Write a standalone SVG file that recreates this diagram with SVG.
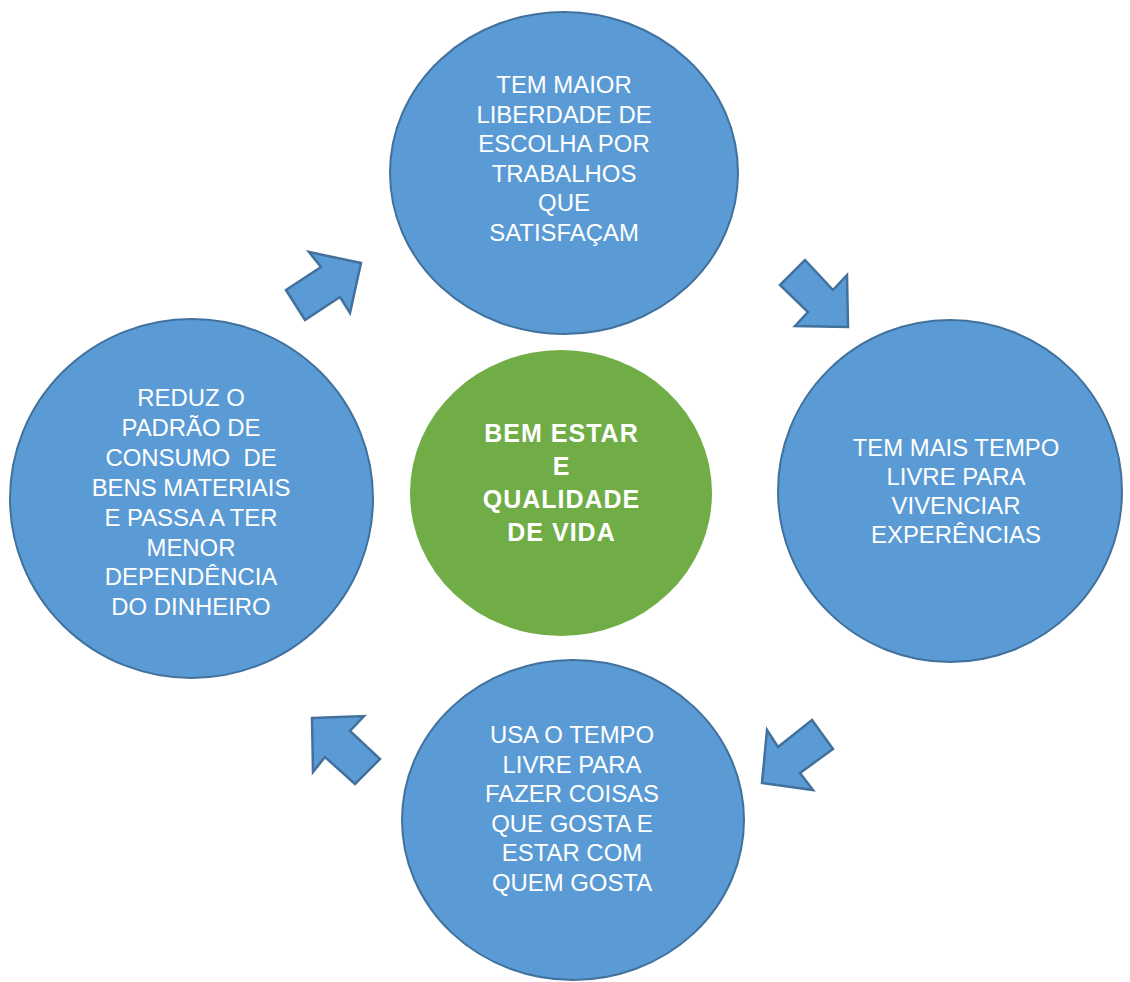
<svg xmlns="http://www.w3.org/2000/svg" width="1130" height="982" viewBox="0 0 1130 982">
<style>
.c{fill:#5B9BD5;stroke:#41719C;stroke-width:2}
.g{fill:#70AD47}
.a{fill:#5B9BD5;stroke:#41719C;stroke-width:2.5;stroke-linejoin:miter}
.t{font-family:"Liberation Sans",Arial,sans-serif;font-size:23.9px;fill:#FFFFFF;text-anchor:middle;white-space:pre}
.b{font-family:"Liberation Sans",Arial,sans-serif;font-size:25px;font-weight:bold;letter-spacing:1px;fill:#FFFFFF;text-anchor:middle}
</style>
<rect width="1130" height="982" fill="#FFFFFF"/>
<g id="connectors">
<polygon class="a" points="286,290 321,267 309,252 361,263 350,313 340,297 305,320"/>
<polygon class="a" points="805,260 833,290 847,275 848,327 795,326 808,312 780,285"/>
<polygon class="a" points="812,720 833,749 800,773 813,790 762,783 767,730 778,747"/>
<polygon class="a" points="312,718 364,716 350,731 380,759 355,784 325,757 313,772"/>
</g>
<g id="node-top">
<ellipse class="c" cx="564" cy="173" rx="174" ry="161"/>
<text class="t" x="564" y="93">TEM MAIOR</text>
<text class="t" x="564" y="122.6">LIBERDADE DE</text>
<text class="t" x="564" y="152.2">ESCOLHA POR</text>
<text class="t" x="564" y="181.8">TRABALHOS</text>
<text class="t" x="564" y="211.4">QUE</text>
<text class="t" x="564" y="241">SATISFAÇAM</text>
</g>
<g id="node-center">
<ellipse class="g" cx="561" cy="493" rx="151" ry="143"/>
<text class="b" x="561.5" y="442">BEM ESTAR</text>
<text class="b" x="561.5" y="475">E</text>
<text class="b" x="561.5" y="508">QUALIDADE</text>
<text class="b" x="561.5" y="541">DE VIDA</text>
</g>
<g id="node-right">
<ellipse class="c" cx="950" cy="491" rx="172" ry="171"/>
<text class="t" x="956" y="456">TEM MAIS TEMPO</text>
<text class="t" x="956" y="485">LIVRE PARA</text>
<text class="t" x="956" y="514">VIVENCIAR</text>
<text class="t" x="956" y="543">EXPERÊNCIAS</text>
</g>
<g id="node-bottom">
<ellipse class="c" cx="573" cy="820" rx="171" ry="160"/>
<text class="t" x="572" y="743">USA O TEMPO</text>
<text class="t" x="572" y="772.6">LIVRE PARA</text>
<text class="t" x="572" y="802.2">FAZER COISAS</text>
<text class="t" x="572" y="831.8">QUE GOSTA E</text>
<text class="t" x="572" y="861.4">ESTAR COM</text>
<text class="t" x="572" y="891">QUEM GOSTA</text>
</g>
<g id="node-left">
<ellipse class="c" cx="191.5" cy="498.5" rx="181.5" ry="179.5"/>
<text class="t" x="191" y="406">REDUZ O</text>
<text class="t" x="191" y="435.9">PADRÃO DE</text>
<text class="t" x="191" y="465.8">CONSUMO  DE</text>
<text class="t" x="191" y="495.7">BENS MATERIAIS</text>
<text class="t" x="191" y="525.6">E PASSA A TER</text>
<text class="t" x="191" y="555.5">MENOR</text>
<text class="t" x="191" y="585.4">DEPENDÊNCIA</text>
<text class="t" x="191" y="615">DO DINHEIRO</text>
</g>
</svg>
